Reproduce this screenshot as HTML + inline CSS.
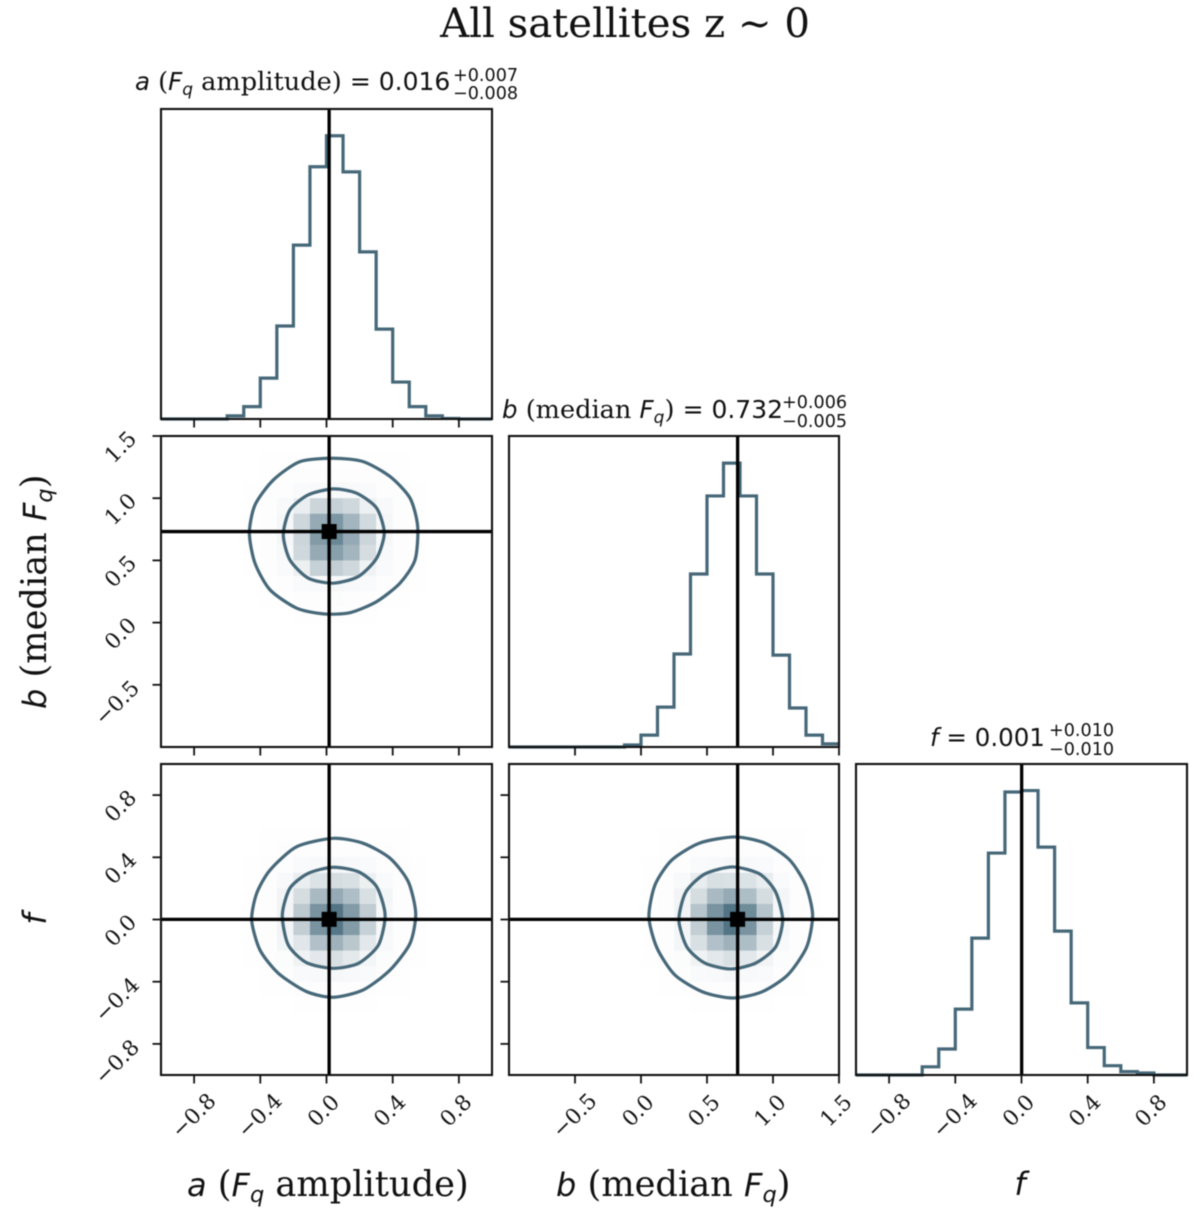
<!DOCTYPE html>
<html lang="en">
<head>
<meta charset="utf-8">
<title>All satellites z ~ 0 corner plot</title>
<style>
html,body{margin:0;padding:0;background:#fff}
svg{display:block;filter:blur(.5px)}
text{fill:#111;white-space:pre}
.serif{font-family:"DejaVu Serif","Liberation Serif",serif}
.sans{font-family:"DejaVu Sans","Liberation Sans",sans-serif}
.it{font-family:"DejaVu Sans","Liberation Sans",sans-serif;font-style:italic}
</style>
</head>
<body>
<svg id="chart" xmlns="http://www.w3.org/2000/svg" width="1200" height="1221" viewBox="0 0 1200 1221">
  <rect x="0" y="0" width="1200" height="1221" fill="#fff"/>
  <text class="serif" x="625" y="37" text-anchor="middle" font-size="40.2">All satellites z ∼ 0</text>

  <g id="p-a"></g>
  <g id="p-ab"></g>
  <g id="p-b"></g>
  <g id="p-af"></g>
  <g id="p-bf"></g>
  <g id="p-f"></g>

  <text class="serif" x="135" y="90" font-size="25.6"><tspan class="it" font-size="24.5">a</tspan> (<tspan class="it" font-size="24.5">F</tspan><tspan class="it" font-size="17" dy="5">q</tspan><tspan dy="-5"> amplitude) </tspan><tspan class="sans" font-size="25">= 0.016</tspan><tspan class="sans" font-size="17.6" x="453" y="81">+0.007</tspan><tspan class="sans" font-size="17.6" x="453" y="99">−0.008</tspan></text>
  <text class="serif" x="502" y="418" font-size="25.6"><tspan class="it" font-size="24.5">b</tspan> (median <tspan class="it" font-size="24.5">F</tspan><tspan class="it" font-size="17" dy="5">q</tspan><tspan dy="-5">) </tspan><tspan class="sans" font-size="25">= 0.732</tspan><tspan class="sans" font-size="17.6" x="782" y="408">+0.006</tspan><tspan class="sans" font-size="17.6" x="782" y="427">−0.005</tspan></text>
  <text class="sans" x="930" y="746" font-size="24.5"><tspan class="it">f</tspan> = 0.001<tspan font-size="17.6" x="1049" y="736">+0.010</tspan><tspan font-size="17.6" x="1049" y="755">−0.010</tspan></text>

  <text class="serif" x="187" y="1196" font-size="35.2"><tspan class="it" font-size="32">a</tspan> (<tspan class="it" font-size="32">F</tspan><tspan class="it" font-size="22.5" dy="6">q</tspan><tspan dy="-6"> amplitude)</tspan></text>
  <text class="serif" x="556" y="1196" font-size="35.2"><tspan class="it" font-size="32">b</tspan> (median <tspan class="it" font-size="32">F</tspan><tspan class="it" font-size="22.5" dy="6">q</tspan><tspan dy="-6">)</tspan></text>
  <text class="it" x="1020" y="1195" text-anchor="middle" font-size="32">f</text>
  <text class="serif" transform="translate(46 709) rotate(-90)" font-size="35.2"><tspan class="it" font-size="32">b</tspan> (median <tspan class="it" font-size="32">F</tspan><tspan class="it" font-size="22.5" dy="6">q</tspan><tspan dy="-6">)</tspan></text>
  <text class="it" transform="translate(46 919) rotate(-90)" text-anchor="middle" font-size="32">f</text>
</svg>

<script>
// ---------- data ----------
const histCountsA = [0,0,0,0,11,44,145,330,617,895,1005,877,593,319,131,44,11,2,0,0];
const histCountsB = [0,0,0,0,0,0,0,7,42,141,329,612,888,1004,888,612,325,138,42,11];
const histCountsF = [0,0,0,0,29,92,233,484,785,1001,1006,806,509,255,97,33,12,7,0,0];

const tickValuesA = [-0.8,-0.4,0,0.4,0.8];
const tickLabelsA = ['−0.8','−0.4','0.0','0.4','0.8'];
const tickValuesB = [-0.5,0,0.5,1,1.5];
const tickLabelsB = ['−0.5','0.0','0.5','1.0','1.5'];
const tickValuesF = [-0.8,-0.4,0,0.4,0.8];
const tickLabelsF = ['−0.8','−0.4','0.0','0.4','0.8'];

const truthA = 0.016;
const truthB = 0.732;
const truthF = 0.001;

// density cells: percent of full colour, rows top to bottom, columns left to right
const densityAB = [
[0,0,0,0,0,0,0,0,0,0,0,0,0,0,0,0,0,0,0,0],
[0,0,0,0,0,0,0.5,0.5,0.5,0.5,0.5,0.5,0.5,0.5,0.5,0,0,0,0,0],
[0,0,0,0,0,0,0.5,1,1,1,1,1,1,1,0.5,0,0,0,0,0],
[0,0,0,0,0,0.5,1,1,3,4,4,4,3,1,1,0.5,0,0,0,0],
[0,0,0,0,0,0.5,1,4,11,27,30,25,9,4,1,0.5,0,0,0,0],
[0,0,0,0,0,0.5,1,5,26,55,68,48,24,5,1,0.5,0,0,0,0],
[0,0,0,0,0,0.5,1,5,27,65,78,55,27,5,1,0.5,0,0,0,0],
[0,0,0,0,0,0.5,1,4,25,55,62,48,22,4,1,0.5,0,0,0,0],
[0,0,0,0,0,0.5,1,3,10,30,32,25,8,3,1,0.5,0,0,0,0],
[0,0,0,0,0,0,0.5,1,3,4,5,4,3,1,1,0.5,0,0,0,0],
[0,0,0,0,0,0,0.5,0.5,1,1,2,1,1,0.5,0.5,0,0,0,0,0],
[0,0,0,0,0,0,0,0,0.5,0.5,0.5,0.5,0.5,0,0,0,0,0,0,0],
[0,0,0,0,0,0,0,0,0,0,0,0,0,0,0,0,0,0,0,0],
[0,0,0,0,0,0,0,0,0,0,0,0,0,0,0,0,0,0,0,0],
[0,0,0,0,0,0,0,0,0,0,0,0,0,0,0,0,0,0,0,0],
[0,0,0,0,0,0,0,0,0,0,0,0,0,0,0,0,0,0,0,0],
[0,0,0,0,0,0,0,0,0,0,0,0,0,0,0,0,0,0,0,0],
[0,0,0,0,0,0,0,0,0,0,0,0,0,0,0,0,0,0,0,0],
[0,0,0,0,0,0,0,0,0,0,0,0,0,0,0,0,0,0,0,0],
[0,0,0,0,0,0,0,0,0,0,0,0,0,0,0,0,0,0,0,0]
];
const densityAF = [
[0,0,0,0,0,0,0,0,0,0,0,0,0,0,0,0,0,0,0,0],
[0,0,0,0,0,0,0,0,0,0,0,0,0,0,0,0,0,0,0,0],
[0,0,0,0,0,0,0,0,0,0,0,0,0,0,0,0,0,0,0,0],
[0,0,0,0,0,0,0,0,0,0,0,0,0,0,0,0,0,0,0,0],
[0,0,0,0,0,0,0.5,0.5,0.5,0.5,0.5,0.5,0.5,0.5,0.5,0,0,0,0,0],
[0,0,0,0,0,0,0.5,1,1,1,1,1,1,1,0.5,0,0,0,0,0],
[0,0,0,0,0,0.5,1,1,3,4,5,4,3,1,1,0.5,0,0,0,0],
[0,0,0,0,0,0.5,1,4,11,18,22,20,10,3,1,0.5,0,0,0,0],
[0,0,0,0,0,0.5,1,7,22,45,55,42,20,6,1,0.5,0,0,0,0],
[0,0,0,0,0,0.5,1,7,35,70,90,65,33,5,1,0.5,0,0,0,0],
[0,0,0,0,0,0.5,1,7,32,70,88,65,30,5,1,0.5,0,0,0,0],
[0,0,0,0,0,0.5,1,6,16,40,50,36,15,4,1,0.5,0,0,0,0],
[0,0,0,0,0,0.5,1,2,8,15,20,14,6,2,1,0.5,0,0,0,0],
[0,0,0,0,0,0,0.5,1,3,4,5,4,3,1,0.5,0,0,0,0,0],
[0,0,0,0,0,0,0.5,0.5,1,1,1,1,1,0.5,0.5,0,0,0,0,0],
[0,0,0,0,0,0,0,0,0.5,0.5,0.5,0.5,0.5,0,0,0,0,0,0,0],
[0,0,0,0,0,0,0,0,0,0,0,0,0,0,0,0,0,0,0,0],
[0,0,0,0,0,0,0,0,0,0,0,0,0,0,0,0,0,0,0,0],
[0,0,0,0,0,0,0,0,0,0,0,0,0,0,0,0,0,0,0,0],
[0,0,0,0,0,0,0,0,0,0,0,0,0,0,0,0,0,0,0,0]
];
const densityBF = [
[0,0,0,0,0,0,0,0,0,0,0,0,0,0,0,0,0,0,0,0],
[0,0,0,0,0,0,0,0,0,0,0,0,0,0,0,0,0,0,0,0],
[0,0,0,0,0,0,0,0,0,0,0,0,0,0,0,0,0,0,0,0],
[0,0,0,0,0,0,0,0,0,0,0,0,0,0,0,0,0,0,0,0],
[0,0,0,0,0,0,0,0,0,0.5,0.5,0.5,0.5,0.5,0.5,0.5,0.5,0.5,0,0],
[0,0,0,0,0,0,0,0,0,0.5,1,1,1,1,1,1,1,0.5,0,0],
[0,0,0,0,0,0,0,0,0.5,1,1,3,4,5,4,3,1,1,0.5,0],
[0,0,0,0,0,0,0,0,0.5,1,4,12,20,19,18,12,3,1,0.5,0],
[0,0,0,0,0,0,0,0,0.5,1,7,22,45,55,42,22,6,1,0.5,0],
[0,0,0,0,0,0,0,0,0.5,1,7,38,70,90,75,38,5,1,0.5,0],
[0,0,0,0,0,0,0,0,0.5,1,6,32,70,90,70,30,5,1,0.5,0],
[0,0,0,0,0,0,0,0,0.5,1,6,20,40,50,42,20,4,1,0.5,0],
[0,0,0,0,0,0,0,0,0.5,1,2,8,15,20,15,7,2,1,0.5,0],
[0,0,0,0,0,0,0,0,0,0.5,1,3,4,5,4,3,1,0.5,0,0],
[0,0,0,0,0,0,0,0,0,0.5,0.5,1,1,1,1,1,0.5,0.5,0,0],
[0,0,0,0,0,0,0,0,0,0,0,0.5,0.5,0.5,0.5,0.5,0,0,0,0],
[0,0,0,0,0,0,0,0,0,0,0,0,0,0,0,0,0,0,0,0],
[0,0,0,0,0,0,0,0,0,0,0,0,0,0,0,0,0,0,0,0],
[0,0,0,0,0,0,0,0,0,0,0,0,0,0,0,0,0,0,0,0],
[0,0,0,0,0,0,0,0,0,0,0,0,0,0,0,0,0,0,0,0]
];

// contours, in data units
const abOuterA = [.041,.222,.384,.505,.551,.535,.444,.303,.142,-.019,-.180,-.341,-.432,-.466,-.432,-.321,-.160];
const abOuterB = [1.321,1.294,1.174,1.0,.772,.504,.317,.169,.080,.070,.116,.263,.477,.719,.946,1.147,1.294];
const abInnerA = [.041,.182,.303,.349,.303,.192,.041,-.110,-.221,-.261,-.221,-.110];
const abInnerB = [1.075,1.040,.920,.719,.518,.370,.317,.357,.504,.705,.906,1.027];
const afOuterA = [.041,.222,.384,.494,.539,.505,.384,.222,.041,-.120,-.291,-.402,-.452,-.422,-.341,-.180];
const afOuterF = [.522,.490,.394,.243,.040,-.153,-.325,-.453,-.500,-.464,-.346,-.196,-.005,.168,.318,.468];
const afInnerA = [.041,.193,.303,.354,.314,.193,.041,-.120,-.231,-.267,-.221,-.110];
const afInnerF = [.336,.307,.211,.029,-.164,-.282,-.314,-.278,-.164,.029,.201,.297];
const bfOuterB = [.711,.937,1.126,1.247,1.300,1.255,1.111,.915,.695,.469,.257,.121,.060,.106,.234,.446];
const bfOuterF = [.531,.492,.383,.222,.029,-.177,-.357,-.466,-.505,-.466,-.357,-.183,.016,.222,.383,.492];
const bfInnerB = [.695,.899,1.020,1.073,1.020,.869,.680,.484,.348,.287,.340,.484];
const bfInnerF = [.338,.293,.177,-.003,-.177,-.280,-.318,-.280,-.177,-.003,.177,.293];

// ---------- scales ----------
const NS = 'http://www.w3.org/2000/svg';
const LINE = '#466879';
const INK = '#111';
const DARK = [63,101,119];
function linear(d0,d1,r0,r1){ return v => r0 + (v-d0)/(d1-d0)*(r1-r0); }
const COL_X = [[161,492],[509,839],[856,1187]];
const ROW_Y = [[109,419],[436,747],[764,1075]];
const xA = linear(-1,1,COL_X[0][0],COL_X[0][1]);
const xB = linear(-1,1.5,COL_X[1][0],COL_X[1][1]);
const xF = linear(-1,1,COL_X[2][0],COL_X[2][1]);
const yB = linear(-1,1.5,ROW_Y[1][1],ROW_Y[1][0]);
const yF = linear(-1,1,ROW_Y[2][1],ROW_Y[2][0]);
const COUNT_MAX = 1100;
const SMOOTH = 8;

function make(parent,tag,attrs){
  const el = document.createElementNS(NS,tag);
  for(const k in attrs) el.setAttribute(k,attrs[k]);
  parent.appendChild(el);
  return el;
}

function drawHist(g,counts,xs,col,row){
  const [x0,x1] = COL_X[col], [yt,yb] = ROW_Y[row];
  const bw = (x1-x0)/counts.length;
  const y = linear(0,COUNT_MAX,yb,yt);
  let d = 'M'+x0+' '+yb;
  counts.forEach((c,i)=>{
    d += 'L'+(x0+i*bw).toFixed(2)+' '+y(c).toFixed(2)+'L'+(x0+(i+1)*bw).toFixed(2)+' '+y(c).toFixed(2);
  });
  const el = make(g,'path',{d:d,fill:'none',stroke:LINE,'stroke-width':3.2,'stroke-linejoin':'miter'});
  
  
}

function drawDensity(g,matrix,col,row){
  const [x0,x1] = COL_X[col], [yt,yb] = ROW_Y[row];
  const nr = matrix.length, nc = matrix[0].length;
  const cw = (x1-x0)/nc, ch = (yb-yt)/nr;
  matrix.forEach((rowVals,j)=>{
    rowVals.forEach((v,i)=>{
      if(!v) return;
      const t = v/100;
      const c = DARK.map(k=>Math.round(255-(255-k)*t));
      const el = make(g,'rect',{x:(x0+i*cw).toFixed(2),y:(yt+j*ch).toFixed(2),width:(cw+.3).toFixed(2),height:(ch+.3).toFixed(2),fill:'rgb('+c.join(',')+')'});
      
      
    });
  });
}

function drawContour(g,xs,ys,sx,sy){
  const p = xs.map((v,i)=>[sx(v),sy(ys[i])]);
  const n = p.length;
  let d = 'M'+p[0][0].toFixed(2)+' '+p[0][1].toFixed(2);
  for(let i=0;i<n;i++){
    const a=p[(i-1+n)%n], b=p[i], c=p[(i+1)%n], e=p[(i+2)%n];
    d += 'C'+(b[0]+(c[0]-a[0])/SMOOTH).toFixed(2)+' '+(b[1]+(c[1]-a[1])/SMOOTH).toFixed(2)+' '
           +(c[0]-(e[0]-b[0])/SMOOTH).toFixed(2)+' '+(c[1]-(e[1]-b[1])/SMOOTH).toFixed(2)+' '
           +c[0].toFixed(2)+' '+c[1].toFixed(2);
  }
  const el = make(g,'path',{d:d+'Z',fill:'none',stroke:LINE,'stroke-width':3.2,'stroke-linejoin':'round'});
  
  
}

function drawTruthV(g,x,row){
  const el = make(g,'line',{x1:x,x2:x,y1:ROW_Y[row][0],y2:ROW_Y[row][1],stroke:'#000','stroke-width':3.3});
  
  
}
function drawTruthH(g,y,col){
  const el = make(g,'line',{x1:COL_X[col][0],x2:COL_X[col][1],y1:y,y2:y,stroke:'#000','stroke-width':3.3});
  
  
}
function drawMarker(g,x,y){
  const el = make(g,'rect',{x:x-7.5,y:y-7.5,width:15,height:15,fill:'#000'});
  
  
}

function drawFrame(g,col,row){
  const [x0,x1] = COL_X[col], [yt,yb] = ROW_Y[row];
  const el = make(g,'rect',{x:x0,y:yt,width:x1-x0,height:yb-yt,fill:'none',stroke:INK,'stroke-width':2.1});
  
  
}

function drawXTicks(g,values,labels,sx,row,showLabels){
  const yb = ROW_Y[row][1];
  values.forEach((v,i)=>{
    const x = sx(v);
    const t = make(g,'line',{x1:x,x2:x,y1:yb,y2:yb+8.5,stroke:INK,'stroke-width':1.8});
    
    
    if(showLabels){
      const neg = v<0;
      const cx = neg ? x : x-2.5;
      const cy = neg ? 1116 : 1111;
      const el = make(g,'text',{x:cx,y:cy,'text-anchor':'middle','dominant-baseline':'central','font-size':21.5,'class':'serif',transform:'rotate(-45 '+cx+' '+cy+')'});
      el.textContent = labels[i];
      
      
    }
  });
}

function drawYTicks(g,values,labels,sy,col,showLabels){
  const x0 = COL_X[col][0];
  values.forEach((v,i)=>{
    const y = sy(v);
    const t = make(g,'line',{x1:x0-8.5,x2:x0,y1:y,y2:y,stroke:INK,'stroke-width':1.8});
    
    
    if(showLabels){
      const neg = v<0;
      const cx = neg ? 117.5 : 121;
      const cy = y + (neg ? 18.5 : 11.5);
      const el = make(g,'text',{x:cx,y:cy,'text-anchor':'middle','dominant-baseline':'central','font-size':21.5,'class':'serif',transform:'rotate(-45 '+cx+' '+cy+')'});
      el.textContent = labels[i];
      
      
    }
  });
}

// ---------- panels ----------
const gA = document.getElementById('p-a');
drawHist(gA,histCountsA,xA,0,0);
drawTruthV(gA,xA(truthA),0);
drawFrame(gA,0,0);
drawXTicks(gA,tickValuesA,tickLabelsA,xA,0,false);

const gAB = document.getElementById('p-ab');
drawDensity(gAB,densityAB,0,1);
drawContour(gAB,abOuterA,abOuterB,xA,yB);
drawContour(gAB,abInnerA,abInnerB,xA,yB);
drawTruthV(gAB,xA(truthA),1);
drawTruthH(gAB,yB(truthB),0);
drawMarker(gAB,xA(truthA),yB(truthB));
drawFrame(gAB,0,1);
drawXTicks(gAB,tickValuesA,tickLabelsA,xA,1,false);
drawYTicks(gAB,tickValuesB,tickLabelsB,yB,0,true);

const gB = document.getElementById('p-b');
drawHist(gB,histCountsB,xB,1,1);
drawTruthV(gB,xB(truthB),1);
drawFrame(gB,1,1);
drawXTicks(gB,tickValuesB,tickLabelsB,xB,1,false);

const gAF = document.getElementById('p-af');
drawDensity(gAF,densityAF,0,2);
drawContour(gAF,afOuterA,afOuterF,xA,yF);
drawContour(gAF,afInnerA,afInnerF,xA,yF);
drawTruthV(gAF,xA(truthA),2);
drawTruthH(gAF,yF(truthF),0);
drawMarker(gAF,xA(truthA),yF(truthF));
drawFrame(gAF,0,2);
drawXTicks(gAF,tickValuesA,tickLabelsA,xA,2,true);
drawYTicks(gAF,tickValuesF,tickLabelsF,yF,0,true);

const gBF = document.getElementById('p-bf');
drawDensity(gBF,densityBF,1,2);
drawContour(gBF,bfOuterB,bfOuterF,xB,yF);
drawContour(gBF,bfInnerB,bfInnerF,xB,yF);
drawTruthV(gBF,xB(truthB),2);
drawTruthH(gBF,yF(truthF),1);
drawMarker(gBF,xB(truthB),yF(truthF));
drawFrame(gBF,1,2);
drawXTicks(gBF,tickValuesB,tickLabelsB,xB,2,true);
drawYTicks(gBF,tickValuesF,tickLabelsF,yF,1,false);

const gF = document.getElementById('p-f');
drawHist(gF,histCountsF,xF,2,2);
drawTruthV(gF,xF(truthF),2);
drawFrame(gF,2,2);
drawXTicks(gF,tickValuesF,tickLabelsF,xF,2,true);
</script>
</body>
</html>
